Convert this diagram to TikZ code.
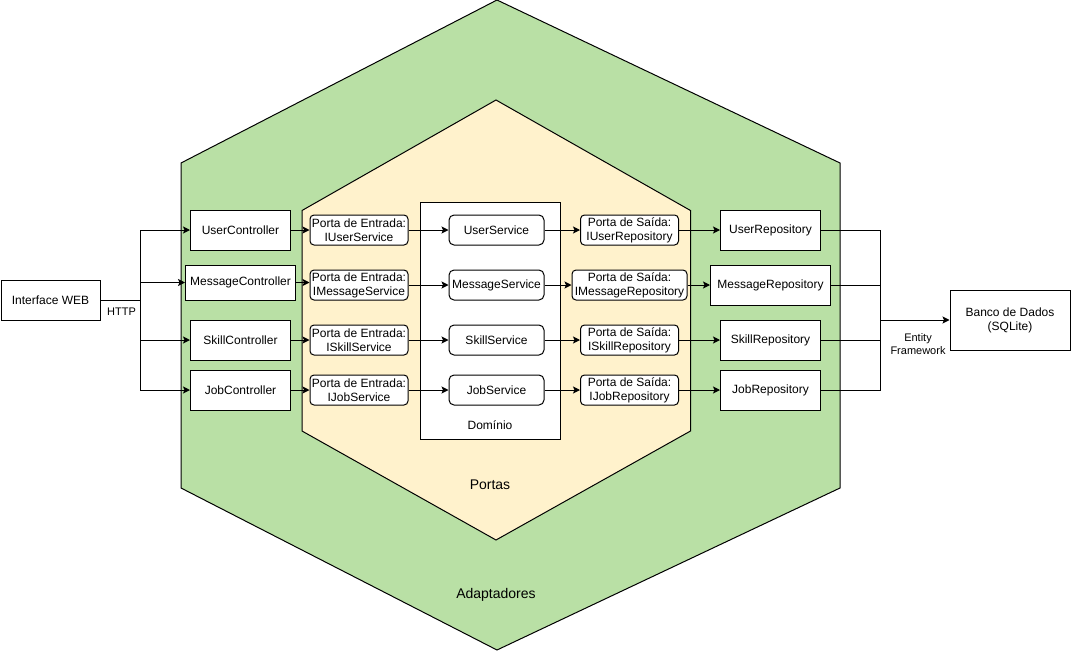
\documentclass[tikz,border=0pt]{standalone}
\usepackage{fontspec}
\setmainfont{Liberation Sans}
\usetikzlibrary{arrows.meta}
\definecolor{adgreen}{HTML}{B9E0A5}
\definecolor{portyellow}{HTML}{FFF2CC}
\begin{document}
\begin{tikzpicture}[x=1pt,y=-1pt,
  txt/.style={font=\fontsize{12}{14}\selectfont, align=center, inner sep=0pt},
  box/.style={txt, draw, fill=white, line width=1pt},
  sqbox/.style={box, minimum width=100pt, minimum height=40pt},
  portbox/.style={box, rounded corners=4pt, minimum width=98pt, minimum height=30pt},
  svcbox/.style={box, rounded corners=5pt, minimum width=95pt, minimum height=30pt},
  conn/.style={line width=1pt},
  arr/.style={conn, -{Stealth[length=7pt,width=7pt,inset=1.5pt]}},
  elabel/.style={font=\fontsize{11}{13}\selectfont, align=center, inner sep=0pt},
  biglabel/.style={font=\fontsize{14}{16}\selectfont, inner sep=0pt}
]
\useasboundingbox (0,0) rectangle (1071,651);

% hexagons
\draw[fill=adgreen, line width=1pt] (497,0) -- (840,163) -- (840,488) -- (497,650) -- (181,488) -- (181,163) -- cycle;
\draw[fill=portyellow, line width=1pt] (496,100) -- (690.5,210.5) -- (690.5,431) -- (496,540) -- (302,431) -- (302,210.5) -- cycle;

% domain box
\node[draw, fill=white, line width=1pt, minimum width=140pt, minimum height=237pt, inner sep=0pt] (dom) at (490,320.5) {};
\node[txt] (domlbl) at (490,425) {Domínio};

\node[biglabel] (portas) at (490,485) {Portas};
\node[biglabel] (adapt) at (496,595) {Adaptadores};

% left
\node[sqbox, minimum width=99pt] (web) at (50.5,300) {Interface WEB};
\node[sqbox] (uc) at (240.5,230) {UserController};
\node[sqbox, minimum width=110pt, minimum height=35pt] (mc) at (240.5,282.5) {MessageController};
\node[sqbox] (sc) at (240.5,340) {SkillController};
\node[sqbox] (jc) at (240.5,390) {JobController};

% input ports
\node[portbox] (pi1) at (359,230) {Porta de Entrada:\\IUserService};
\node[portbox] (pi2) at (359,285) {Porta de Entrada:\\IMessageService};
\node[portbox] (pi3) at (359,340) {Porta de Entrada:\\ISkillService};
\node[portbox] (pi4) at (359,390) {Porta de Entrada:\\IJobService};

% services
\node[svcbox] (us) at (496.5,230) {UserService};
\node[svcbox] (ms) at (496.5,285) {MessageService};
\node[svcbox] (ss) at (496.5,340) {SkillService};
\node[svcbox] (js) at (496.5,390) {JobService};

% output ports
\node[portbox] (po1) at (629.5,230) {Porta de Saída:\\IUserRepository};
\node[portbox, minimum width=115pt] (po2) at (629.5,285) {Porta de Saída:\\IMessageRepository};
\node[portbox] (po3) at (629.5,340) {Porta de Saída:\\ISkillRepository};
\node[portbox] (po4) at (629.5,390) {Porta de Saída:\\IJobRepository};

% repositories
\node[sqbox] (ur) at (770.5,230) {UserRepository};
\node[sqbox, minimum width=120pt] (mr) at (770.5,285) {MessageRepository};
\node[sqbox] (sr) at (770.5,340) {SkillRepository};
\node[sqbox] (jrp) at (770.5,390) {JobRepository};

\node[sqbox, minimum width=120pt, minimum height=60pt] (db) at (1010,320) {Banco de Dados\\(SQLite)};

% junctions
\coordinate (jl) at (140.5,300);
\coordinate (jr) at (880.5,320);

% left connectors
\draw[conn] (web.east) -- (jl);
\draw[arr] (jl) |- (uc.west);
\draw[arr] (jl) |- (mc.west);
\draw[arr] (jl) |- (sc.west);
\draw[arr] (jl) |- (jc.west);
\node[elabel] (http) at (121.5,311.5) {HTTP};

% controllers to input ports
\draw[arr] (uc.east) -- (pi1.west);
\draw[arr] (mc.east) -- (mc.east -| pi2.west);
\draw[arr] (sc.east) -- (pi3.west);
\draw[arr] (jc.east) -- (pi4.west);

% input ports to services
\draw[arr] (pi1.east) -- (us.west);
\draw[arr] (pi2.east) -- (ms.west);
\draw[arr] (pi3.east) -- (ss.west);
\draw[arr] (pi4.east) -- (js.west);

% services to output ports
\draw[arr] (us.east) -- (po1.west);
\draw[arr] (ms.east) -- (po2.west);
\draw[arr] (ss.east) -- (po3.west);
\draw[arr] (js.east) -- (po4.west);

% output ports to repositories
\draw[arr] (po1.east) -- (ur.west);
\draw[arr] (po2.east) -- (mr.west);
\draw[arr] (po3.east) -- (sr.west);
\draw[arr] (po4.east) -- (jrp.west);

% repositories to database
\draw[conn] (ur.east) -| (jr);
\draw[conn] (mr.east) -| (jr);
\draw[conn] (sr.east) -| (jr);
\draw[conn] (jrp.east) -| (jr);
\draw[arr] (jr) -- (db.west);
\node[elabel] (ef) at (918,344) {Entity\\Framework};

\end{tikzpicture}
\end{document}
